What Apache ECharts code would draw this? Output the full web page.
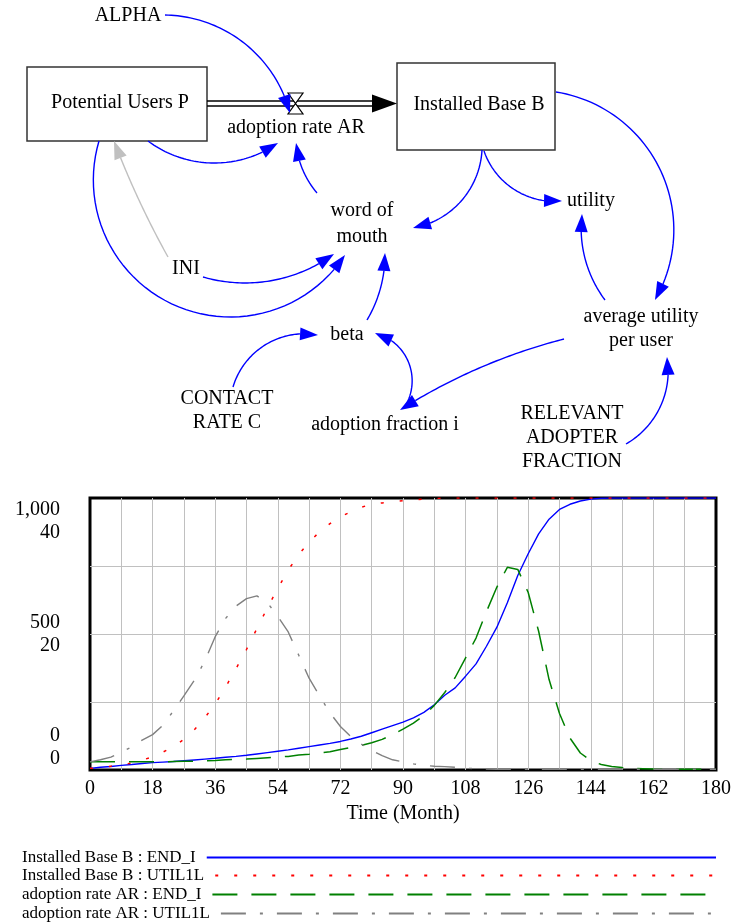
<!DOCTYPE html>
<html><head><meta charset="utf-8">
<script src="https://cdn.jsdelivr.net/npm/echarts@6/dist/echarts.min.js"></script>
<style>html,body{margin:0;padding:0;background:#fff}#c{width:734px;height:924px}</style>
</head><body><div id="c"></div>
<script>
// ---------- DATA ----------
const months = [0,3,6,9,12,15,18,21,24,27,30,33,36,39,42,45,48,51,54,57,60,63,66,69,72,75,78,81,84,87,90,93,96,99,102,105,108,111,114,117,120,123,126,129,132,135,138,141,144,147,150,153,156,159,162,165,168,171,174,177,180];
const installedBaseEND = [6,10,13,17,20,24,27,29,31,34,37,40,43,47,50,54,59,64,69,74,80,86,92,98,105,114,124,137,150,163,176,192,212,240,275,302,345,390,455,525,615,715,795,868,922,958,977,989,996,999,1000,1000,1000,1000,1000,1000,1000,1000,1000,1000,1000];
const installedBaseUTIL = [6,9,14,19,26,36,49,66,86,113,148,192,243,305,373,443,520,596,668,735,792,837,876,906,930,950,966,977,982,986,990,993,996,998,1000,1000,1000,1000,1000,1000,1000,1000,1000,1000,1000,1000,1000,1000,1000,1000,1000,1000,1000,1000,1000,1000,1000,1000,1000,1000,1000];
const adoptionRateEND = [1.2,1.2,1.2,1.2,1.2,1.2,1.2,1.2,1.25,1.3,1.3,1.35,1.4,1.5,1.55,1.6,1.7,1.8,1.9,2.0,2.2,2.3,2.5,2.7,3.0,3.3,3.6,4.0,4.5,5.2,6.0,6.9,8.0,9.5,11.4,13.6,16.5,19.4,23.3,26.9,29.8,29.5,26.1,20.4,13.3,8.3,4.7,2.5,1.4,0.8,0.5,0.35,0.25,0.2,0.15,0.12,0.1,0.1,0.1,0.1,0.1];
const adoptionRateUTIL = [1.2,1.5,1.9,2.6,3.4,4.4,5.2,6.6,8.7,10.9,13.2,16.0,19.6,22.3,24.1,25.2,25.6,24.6,22.6,20.3,16.9,13.5,10.9,8.4,6.4,4.9,3.8,2.9,2.1,1.5,1.2,0.9,0.7,0.55,0.5,0.4,0.25,0.2,0.15,0.12,0.1,0.1,0.1,0.1,0.1,0.1,0.1,0.1,0.1,0.1,0.1,0.1,0.1,0.1,0.1,0.1,0.1,0.1,0.1,0.1,0.1];
const seriesNames = ['Installed Base B : END_I','Installed Base B : UTIL1L','adoption rate AR : END_I','adoption rate AR : UTIL1L'];
const xTickLabels = [0,18,36,54,72,90,108,126,144,162,180];
const yTickValues = [0,500,1000];
const yTicksInstalled = ['0','500','1,000'];
const yTicksAdoption = ['0','20','40'];

// ---------- STYLE ----------
const SERIF = 'Liberation Serif';
const BLUE = '#0000ff';
const GRAY_LINK = '#c0c0c0';

function circle(p1,p2,p3){
  const ax=p1[0],ay=p1[1],bx=p2[0],by=p2[1],cx=p3[0],cy=p3[1];
  const d=2*(ax*(by-cy)+bx*(cy-ay)+cx*(ay-by));
  const ux=((ax*ax+ay*ay)*(by-cy)+(bx*bx+by*by)*(cy-ay)+(cx*cx+cy*cy)*(ay-by))/d;
  const uy=((ax*ax+ay*ay)*(cx-bx)+(bx*bx+by*by)*(ax-cx)+(cx*cx+cy*cy)*(bx-ax))/d;
  return [ux,uy,Math.hypot(ax-ux,ay-uy)];
}
function connector(s,m,e,color){
  const headLen=18, headW=6.5;
  const [cx,cy,r]=circle(s,m,e);
  const TAU=Math.PI*2, norm=a=>((a%TAU)+TAU)%TAU;
  const a1=Math.atan2(s[1]-cy,s[0]-cx), am=Math.atan2(m[1]-cy,m[0]-cx), a2=Math.atan2(e[1]-cy,e[0]-cx);
  const d=norm(a2-a1), dm=norm(am-a1);
  const dir=dm<d?1:-1;
  const sweep=dir>0?d:TAU-d;
  const endSweep=sweep-headLen/r;
  const pts=[];
  for(let i=0;i<=48;i++){const a=a1+dir*endSweep*i/48;pts.push([cx+r*Math.cos(a),cy+r*Math.sin(a)]);}
  const b=pts[pts.length-1];
  const ux=e[0]-b[0], uy=e[1]-b[1], L=Math.hypot(ux,uy);
  const nx=-uy/L*headW, ny=ux/L*headW;
  return [
    {type:'polyline',silent:true,shape:{points:pts},style:{stroke:color,lineWidth:1.4,fill:null}},
    {type:'polygon',silent:true,shape:{points:[e,[b[0]+nx,b[1]+ny],[b[0]-nx,b[1]-ny]]},style:{fill:color}}
  ];
}
function label(x,y,text,lh){
  return {type:'text',silent:true,x:x,y:y,style:{text:text,fill:'#000',fontSize:20,fontFamily:SERIF,align:'center',verticalAlign:'middle',lineHeight:lh||24}};
}

const diagram = [];
// stocks
diagram.push({type:'rect',silent:true,shape:{x:27,y:67,width:180,height:74},style:{fill:'#fff',stroke:'#333',lineWidth:1.5}});
diagram.push({type:'rect',silent:true,shape:{x:397,y:63,width:158,height:87},style:{fill:'#fff',stroke:'#333',lineWidth:1.5}});
// pipe
diagram.push({type:'line',silent:true,shape:{x1:207,y1:101,x2:374,y2:101},style:{stroke:'#000',lineWidth:1.3}});
diagram.push({type:'line',silent:true,shape:{x1:207,y1:106,x2:374,y2:106},style:{stroke:'#000',lineWidth:1.3}});
diagram.push({type:'polygon',silent:true,shape:{points:[[372,94.5],[397,103.5],[372,112.5]]},style:{fill:'#000'}});
diagram.push({type:'polygon',silent:true,shape:{points:[[288,93],[303,93],[288,114],[303,114]]},style:{fill:'#fff',stroke:'#000',lineWidth:1.2}});
// connectors
[
  [[165,15],[250,48],[290,113]],
  [[148,141],[213,163],[278,143]],
  [[317,193],[302,168],[296,143]],
  [[482,150],[466,195],[413,228]],
  [[484,151],[508,185],[562,201]],
  [[556,92],[668,190],[655,300]],
  [[605,300],[586,262],[582,214]],
  [[564,339],[484,366],[400,410]],
  [[404,408],[412,377],[375,333]],
  [[367,320],[382,282],[385,253]],
  [[233,387],[262,347],[318,335]],
  [[203,277],[262,282],[334,254]],
  [[99,141],[230,317],[345,255]],
  [[626,444],[657,413],[667,357]]
].forEach(c=>diagram.push(...connector(c[0],c[1],c[2],BLUE)));
diagram.push(...connector([168,257],[133,187],[114,141],GRAY_LINK));
// labels
diagram.push(label(128,16,'ALPHA'));
diagram.push(label(120,103,'Potential Users P'));
diagram.push(label(296,128,'adoption rate AR'));
diagram.push(label(479,105,'Installed Base B'));
diagram.push(label(591,201,'utility'));
diagram.push(label(362,224,'word of\nmouth',26));
diagram.push(label(186,269,'INI'));
diagram.push(label(347,335,'beta'));
diagram.push(label(641,329,'average utility\nper user',24));
diagram.push(label(227,411,'CONTACT\nRATE C',24));
diagram.push(label(385,425,'adoption fraction i'));
diagram.push(label(572,438,'RELEVANT\nADOPTER\nFRACTION',24));

// legend geometry
const legendFontSize = 17;
const measure = (()=>{const c=document.createElement('canvas').getContext('2d');c.font=legendFontSize+'px "'+SERIF+'"';return s=>c.measureText(s).width;})();
const legendRows = [856,874,893,912];
const legendTextPad = 6;

const styles = [
  {color:BLUE, width:1.4, type:'solid'},
  {color:'#ff0000', width:1.5, type:[3,16]},
  {color:'#008000', width:1.5, type:[25,14]},
  {color:'#808080', width:1.4, type:[25,14,3,14]}
];
const values = [installedBaseEND, installedBaseUTIL, adoptionRateEND, adoptionRateUTIL];
const axisIdx = [0,0,1,1];

const chart = echarts.init(document.getElementById('c'), null, {renderer:'canvas'});
chart.setOption({
  animation:false,
  backgroundColor:'#fff',
  graphic:{elements:diagram},
  grid:{left:90,right:18,top:498,bottom:154,show:true,borderColor:'#000',borderWidth:3,backgroundColor:'transparent',containLabel:false},
  xAxis:{type:'value',min:0,max:180,interval:9,
    axisLine:{show:false},axisTick:{show:false},
    splitLine:{show:true,showMinLine:false,showMaxLine:false,lineStyle:{color:'#c0c0c0',width:1}},
    axisLabel:{margin:9,color:'#000',fontSize:20,fontFamily:SERIF,formatter:v=>xTickLabels.indexOf(v)>=0?String(v):''},
    name:'Time (Month)',nameLocation:'middle',nameGap:34,nameTextStyle:{color:'#000',fontSize:20,fontFamily:SERIF}},
  yAxis:[
    {type:'value',min:0,max:1000,interval:250,
      axisLine:{show:false},axisTick:{show:false},
      splitLine:{show:true,showMinLine:false,showMaxLine:false,lineStyle:{color:'#c0c0c0',width:1}},
      axisLabel:{margin:30,color:'#000',fontSize:20,fontFamily:SERIF,lineHeight:23,
        verticalAlignMaxLabel:'top',verticalAlignMinLabel:'bottom',
        formatter:v=>{const i=yTickValues.indexOf(v);return i<0?'':yTicksInstalled[i]+'\n'+yTicksAdoption[i];}}},
    {type:'value',min:0,max:40,interval:10,show:false,splitLine:{show:false}}
  ],
  legend: seriesNames.map((n,i)=>({
    data:[n], left:22, top:legendRows[i]-7, orient:'horizontal', align:'right', padding:0,
    itemWidth: 716-22-measure(n)-legendTextPad-5, itemHeight:14, selectedMode:false,
    itemStyle:{color:'rgba(0,0,0,0)',borderWidth:0},
    textStyle:{color:'#000',fontSize:legendFontSize,fontFamily:SERIF,padding:[0,legendTextPad,0,0]}
  })),
  series: seriesNames.map((n,i)=>({
    name:n, type:'line', yAxisIndex:axisIdx[i], symbol:'none', silent:true,
    data: months.map((t,j)=>[t, values[i][j]]),
    lineStyle:{color:styles[i].color,width:styles[i].width,type:styles[i].type},
    itemStyle:{color:styles[i].color}
  }))
});
</script></body></html>
